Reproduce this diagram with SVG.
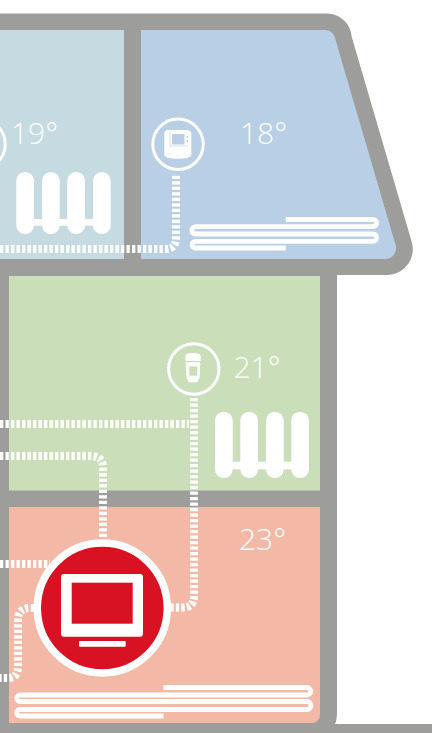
<svg xmlns="http://www.w3.org/2000/svg" width="432" height="733" viewBox="0 0 432 733">
<style>
.t{font-family:"Open Sans","Liberation Sans",sans-serif;font-weight:300;font-size:30px;fill:#fff}
.d{fill:none;stroke:#fff;stroke-width:8;stroke-dasharray:3.3 2.2}
.f{fill:none;stroke:#fff;stroke-width:4.8}
.w{fill:#fff}
.r{fill:none;stroke:#fff;stroke-width:3}
</style>
<g id="building">
<path d="M0 13.500H327A25 25 0 0 1 351.700 36.700L411.200 240A26 26 0 0 1 388 275H337V712Q337 720 335 724H432V733H0Z" fill="#9d9d9c"/>
</g>
<g id="room-19">
<rect x="0" y="30" width="124" height="229" fill="#c5dbe1"/>
<text class="t" x="11" y="144">19°</text>
<circle class="r" cx="-20" cy="144.300" r="25.200"/>
<g class="w">
<rect x="16.300" y="172" width="17.700" height="62" rx="8.800"/>
<rect x="42" y="172" width="17.700" height="62" rx="8.800"/>
<rect x="67.300" y="172" width="17.700" height="62" rx="8.800"/>
<rect x="93" y="172" width="17.700" height="62" rx="8.800"/>
<rect x="24" y="219" width="78" height="6.700"/>
</g>
</g>
<g id="room-18">
<path d="M141 30H326A10 10 0 0 1 335 38L395 243A11 11 0 0 1 385 259H141Z" fill="#b8cfe5"/>
<text class="t" x="240" y="144">18°</text>
<path class="f" d="M285.700 219.500H373A3.600 3.600 0 0 1 373 226.700H195.500A3.650 3.650 0 0 0 195.500 234H373A3.650 3.650 0 0 1 373 241.300H195.500A3.350 3.350 0 0 0 195.500 248H285.700"/>
</g>
<g id="room-21">
<rect x="9" y="276" width="311" height="214.500" fill="#c9deb9"/>
<text class="t" x="233.500" y="378">21°</text>
<g class="w">
<rect x="215" y="411.700" width="17.700" height="66.300" rx="8.800"/>
<rect x="240.300" y="411.700" width="17.700" height="66.300" rx="8.800"/>
<rect x="266" y="411.700" width="17.700" height="66.300" rx="8.800"/>
<rect x="291.300" y="411.700" width="17.700" height="66.300" rx="8.800"/>
<rect x="223" y="461.700" width="78" height="7.600"/>
</g>
</g>
<g id="room-23">
<path d="M9 507H320V715A8 8 0 0 1 312 723H9Z" fill="#f3b9a6"/>
<text class="t" x="239" y="550">23°</text>
<path class="f" d="M163.500 687.500H307A3.750 3.750 0 0 1 307 695H20A3.250 3.250 0 0 0 20 701.500H307A4 4 0 0 1 307 709.500H20A3.250 3.250 0 0 0 20 716H163.500"/>
</g>
<g id="connectors">
<path class="d" d="M0 249H166Q176 249 176 238V174"/>
<path class="d" d="M0 424H189"/>
<path class="d" d="M194 398V596Q194 607.500 183 607.500H170"/>
<path class="d" d="M0 456H91Q103 456 103 468V539"/>
<path class="d" d="M0 564H50"/>
<path class="d" d="M34 608H30Q18 608 18 620V666Q18 678 8 678H0"/>
</g>
<g id="thermostat-18">
<circle class="r" cx="178" cy="144.300" r="25.200"/>
<path class="w" d="M164.300 134Q164.300 130 168 130H186Q191.300 130 191.300 134V155Q191.300 158.700 178 158.700Q164.300 158.700 164.300 155Z"/>
<path d="M170 130.500V146H188" fill="none" stroke="#b8cfe5" stroke-width=".6"/>
<rect x="172" y="134" width="12.500" height="10.500" fill="#b8cfe5"/>
<rect x="186.500" y="136" width="1.500" height="2" fill="#b8cfe5"/>
<rect x="186.500" y="140" width="1.500" height="2" fill="#b8cfe5"/>
</g>
<g id="thermostat-21">
<circle class="r" cx="193.800" cy="369" r="25.200"/>
<path class="w" d="M185.300 361V356Q185.300 353 193 353Q200.700 353 200.700 356V361Z"/>
<path class="w" d="M185.600 362.200H200.400L199.500 378Q199.500 379 198 379.500V382.300H188V379.500Q186.500 379 186.500 378Z"/>
<rect x="189.300" y="366.300" width="8" height="9.400" fill="#c9deb9"/>
</g>
<g id="monitor">
<circle cx="102.300" cy="608" r="65" fill="#d91223" stroke="#fff" stroke-width="7.500"/>
<rect class="w" x="61" y="574" width="82" height="62.700" rx="3"/>
<rect x="71.700" y="582.700" width="61" height="41" fill="#d91223"/>
<rect class="w" x="79" y="641" width="46.700" height="5.700" rx="1"/>
</g>
</svg>
